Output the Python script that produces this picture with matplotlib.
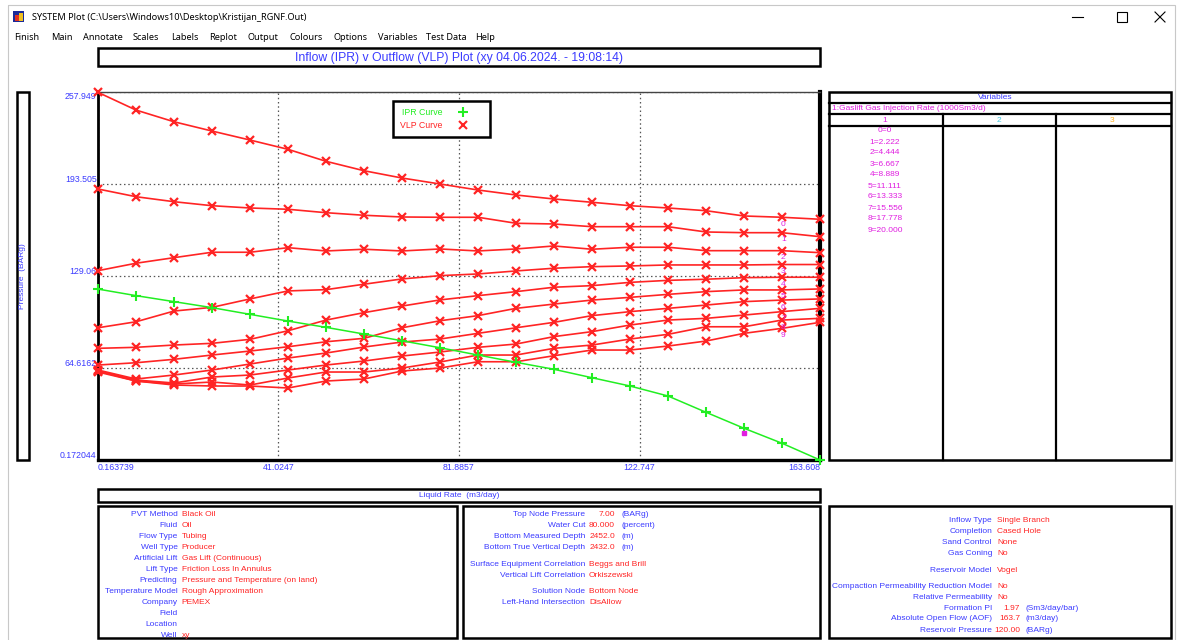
import numpy as np
import matplotlib
matplotlib.use("Agg")
import matplotlib.pyplot as plt
from matplotlib.lines import Line2D
from matplotlib.patches import Rectangle

plt.rcParams["font.family"] = ["Liberation Sans", "DejaVu Sans"]

W, H = 1179, 640

BLUE = "#3b3bff"
RED = "#ff2424"
MAG = "#e01ee0"
GREEN = "#22ee22"

# data
liquid_rate = [0.1637, 8.7661, 17.3684, 25.9707, 34.5730, 43.1754, 51.7777,
               60.3800, 68.9823, 77.5847, 86.1870, 94.7893, 103.3917, 111.9940,
               120.5963, 129.1986, 137.8010, 146.4033, 155.0056, 163.6080]

ipr_pressure = [119.9, 115.3, 111.1, 106.9, 102.2, 97.5, 93.1, 88.4, 83.7, 78.8,
                73.7, 68.6, 63.7, 57.8, 52.0, 45.0, 33.6, 22.4, 11.9, 0.17]

vlp_0 = [257.7, 245.3, 237.1, 230.6, 224.3, 217.8, 209.4, 202.8, 197.7, 193.5,
         189.3, 185.8, 183.0, 180.7, 178.3, 176.7, 174.8, 171.1, 170.2, 168.8]
vlp_1 = [190.0, 184.6, 181.1, 178.3, 176.7, 175.8, 173.4, 171.6, 170.4, 170.2,
         170.2, 166.0, 165.5, 163.6, 163.6, 163.6, 159.9, 159.4, 159.4, 156.6]
vlp_2 = [132.8, 138.0, 141.9, 145.7, 145.7, 148.9, 146.6, 147.8, 146.6, 148.0,
         146.6, 148.0, 150.1, 147.8, 149.2, 149.2, 146.8, 146.8, 146.8, 145.4]
vlp_3 = [92.8, 97.0, 104.5, 107.1, 113.0, 118.6, 119.5, 123.3, 127.0, 129.3,
         130.5, 132.6, 134.5, 135.6, 136.1, 136.8, 136.8, 136.8, 137.1, 137.1]
vlp_4 = [78.4, 79.1, 80.7, 81.9, 84.7, 90.7, 98.2, 103.4, 108.0, 112.3,
         115.3, 118.1, 121.2, 122.3, 124.6, 126.0, 126.8, 127.9, 128.2, 128.2]
vlp_5 = [66.7, 68.3, 70.7, 73.7, 76.5, 79.5, 83.0, 85.4, 92.8, 97.7,
         101.3, 106.4, 109.4, 112.2, 114.1, 116.2, 118.1, 119.3, 119.3, 120.0]
vlp_6 = [63.2, 56.9, 59.7, 63.2, 67.4, 71.6, 75.1, 79.3, 82.8, 84.9,
         88.9, 92.8, 96.6, 101.3, 104.1, 106.4, 108.7, 111.1, 112.2, 113.0]
vlp_7 = [62.5, 56.2, 54.1, 58.3, 59.7, 63.2, 66.7, 69.5, 73.0, 75.8,
         79.1, 81.4, 86.6, 90.1, 94.7, 98.2, 99.4, 101.7, 104.1, 106.4]
vlp_8 = [62.5, 55.5, 53.4, 54.8, 52.7, 57.6, 61.8, 61.8, 64.6, 68.8,
         73.7, 73.7, 78.4, 80.7, 84.9, 88.2, 93.5, 93.5, 98.2, 99.4]
vlp_9 = [61.8, 55.5, 52.7, 52.0, 52.0, 50.6, 55.5, 56.9, 62.5, 64.6,
         69.0, 69.0, 73.2, 77.2, 77.2, 80.0, 83.5, 88.9, 92.4, 96.6]
vlp_curves = [vlp_0, vlp_1, vlp_2, vlp_3, vlp_4, vlp_5, vlp_6, vlp_7, vlp_8, vlp_9]

op_rate = [146.4]
op_pressure = [19.1]

x_ticks = [0.163739, 41.0247, 81.8857, 122.747, 163.608]
x_tick_labels = ["0.163739", "41.0247", "81.8857", "122.747", "163.608"]
y_ticks = [0.172044, 64.6162, 129.06, 193.505, 257.949]
y_tick_labels = ["0.172044", "64.6162", "129.06", "193.505", "257.949"]

gas_inj_values = ["0=0", "1=2.222", "2=4.444", "3=6.667", "4=8.889", "5=11.111",
                  "6=13.333", "7=15.556", "8=17.778", "9=20.000"]

menu_items = ["Finish", "Main", "Annotate", "Scales", "Labels", "Replot", "Output",
              "Colours", "Options", "Variables", "Test Data", "Help"]
menu_x = [14, 51, 83, 133, 171, 209, 248, 289, 333, 378, 426, 475]

box1_labels = ["PVT Method", "Fluid", "Flow Type", "Well Type", "Artificial Lift",
               "Lift Type", "Predicting", "Temperature Model", "Company", "Field",
               "Location", "Well"]
box1_values = ["Black Oil", "Oil", "Tubing", "Producer", "Gas Lift (Continuous)",
               "Friction Loss In Annulus", "Pressure and Temperature (on land)",
               "Rough Approximation", "PEMEX", "", "", "xy"]

box2_labels = ["Top Node Pressure", "Water Cut", "Bottom Measured Depth",
               "Bottom True Vertical Depth", "Surface Equipment Correlation",
               "Vertical Lift Correlation", "Solution Node", "Left-Hand Intersection"]
box2_numbers = ["7.00", "80.000", "2452.0", "2432.0", "", "", "", ""]
box2_units = ["(BARg)", "(percent)", "(m)", "(m)", "", "", "", ""]
box2_values = ["", "", "", "", "Beggs and Brill", "Orkiszewski", "Bottom Node", "DisAllow"]
box2_y = [514.3, 525.7, 536.7, 547.7, 564, 575.7, 591.7, 602.7]

box3_labels = ["Inflow Type", "Completion", "Sand Control", "Gas Coning",
               "Reservoir Model", "Compaction Permeability Reduction Model",
               "Relative Permeability", "Formation PI", "Absolute Open Flow (AOF)",
               "Reservoir Pressure"]
box3_values = ["Single Branch", "Cased Hole", "None", "No", "Vogel", "No", "No", "", "", ""]
box3_numbers = ["", "", "", "", "", "", "", "1.97", "163.7", "120.00"]
box3_units = ["", "", "", "", "", "", "", "(Sm3/day/bar)", "(m3/day)", "(BARg)"]
box3_y = [520, 531.7, 542.3, 553.3, 570, 586, 597.3, 608.3, 619, 630]

FS = 6.0
UI_FONT = ["Noto Sans", "DejaVu Sans"]

fig = plt.figure(figsize=(W / 100, H / 100), dpi=100)
fig.patch.set_facecolor("white")

# window chrome, boxes and texts in pixel coordinates
bg = fig.add_axes([0, 0, 1, 1], zorder=0)
bg.set_xlim(0, W)
bg.set_ylim(H, 0)
bg.axis("off")


def box(x0, y0, x1, y1, lw=1.8):
    bg.add_patch(Rectangle((x0, y0), x1 - x0, y1 - y0, fill=False, ec="black", lw=lw))


def txt(x, y, s, color=BLUE, ha="left", size=FS, **kw):
    bg.text(x, y, s, color=color, ha=ha, va="center", fontsize=size, **kw)


bg.add_patch(Rectangle((7.5, 4.5), 1167, 640, fill=False, ec="#c8c8c8", lw=0.8))
# icon
bg.add_patch(Rectangle((13, 11), 11, 11, fc="#1a2a9a", ec="none"))
bg.add_patch(Rectangle((15, 15), 4, 6, fc="#e03020", ec="none"))
bg.add_patch(Rectangle((19, 13), 4, 8, fc="#f0c020", ec="none"))
txt(32, 17, "SYSTEM Plot (C:\\Users\\Windows10\\Desktop\\Kristijan_RGNF.Out)",
    color="black", size=6.6, family=UI_FONT)
bg.plot([1072, 1083], [17, 17], color="black", lw=0.8)
bg.add_patch(Rectangle((1117, 12), 10, 10, fill=False, ec="black", lw=0.8))
bg.plot([1155, 1165], [12, 22], color="black", lw=0.8)
bg.plot([1155, 1165], [22, 12], color="black", lw=0.8)

for name, mx in zip(menu_items, menu_x):
    txt(mx, 38, name, color="black", size=6.6, family=UI_FONT)

# title box
box(98, 48, 820, 66)
txt(459, 57.5, "Inflow (IPR) v Outflow (VLP) Plot (xy 04.06.2024. - 19:08:14)",
    ha="center", size=8.8)

# y label box
box(17, 91.5, 29, 460)
bg.text(23, 276, "Pressure  (BARg)", color=BLUE, fontsize=FS, rotation=90,
        ha="center", va="center")

# x label box
box(98, 489, 820, 502)
txt(459, 495.5, "Liquid Rate  (m3/day)", ha="center")

# variables panel
box(829, 91.5, 1171, 460)
for yy in [103.3, 114.3, 125.7]:
    bg.plot([829, 1171], [yy, yy], color="black", lw=1.6)
for xx in [943, 1056]:
    bg.plot([xx, xx], [114.3, 460], color="black", lw=1.6)
txt(995, 97.7, "Variables", ha="center")
txt(831.5, 109, "1:Gaslift Gas Injection Rate (1000Sm3/d)", color=MAG)
txt(885, 120, "1", color=MAG, ha="center")
txt(999, 120, "2", color="#40c8e0", ha="center")
txt(1112, 120, "3", color="#ffb020", ha="center")
for i, s in enumerate(gas_inj_values):
    txt(885, 131 + 11 * i, s, color=MAG, ha="center")

# bottom info boxes
box(98, 506, 457, 638)
for i, (lab, val) in enumerate(zip(box1_labels, box1_values)):
    yy = 514.3 + 11.05 * i
    txt(177.5, yy, lab, ha="right")
    txt(181.5, yy, val, color=RED)

box(463, 506, 820, 638)
for lab, num, unit, val, yy in zip(box2_labels, box2_numbers, box2_units, box2_values, box2_y):
    txt(585, yy, lab, ha="right")
    if num:
        txt(615, yy, num, color=RED, ha="right")
        txt(621, yy, unit)
    else:
        txt(589, yy, val, color=RED)

box(829, 506, 1171, 638)
for lab, num, unit, val, yy in zip(box3_labels, box3_numbers, box3_units, box3_values, box3_y):
    txt(992, yy, lab, ha="right")
    if num:
        txt(1020, yy, num, color=RED, ha="right")
        txt(1026, yy, unit)
    else:
        txt(997, yy, val, color=RED)

# the IPR / VLP plot
ax = fig.add_axes([98 / W, 1 - 460 / H, 722 / W, 368 / H], zorder=1)
ax.set_xlim(x_ticks[0], x_ticks[-1])
ax.set_ylim(y_ticks[0], y_ticks[-1])

for i, p in enumerate(vlp_curves):
    ax.plot(liquid_rate, p, color=RED, lw=1.2, marker="x", ms=6, mew=1.6,
            clip_on=False, zorder=3)
    ax.annotate(str(i), (liquid_rate[-2], p[-2]), xytext=(1, -5),
                textcoords="offset points", color=MAG, fontsize=FS,
                ha="center", va="center", zorder=4)

ax.plot(liquid_rate, ipr_pressure, color=GREEN, lw=1.1, marker="+", ms=7, mew=1.5,
        clip_on=False, zorder=4)
ax.plot(op_rate, op_pressure, ls="none", marker="s", ms=3.5, color=MAG, zorder=5)

ax.set_xticks(x_ticks, x_tick_labels)
ax.set_yticks(y_ticks, y_tick_labels)
ax.tick_params(length=0, labelsize=6.3, labelcolor=BLUE)
ax.tick_params(axis="x", pad=2)
ax.tick_params(axis="y", pad=1)
xl = ax.get_xticklabels()
xl[0].set_ha("left")
xl[-1].set_ha("right")
yl = ax.get_yticklabels()
for lbl in yl:
    lbl.set_va("bottom")
yl[-1].set_va("top")

ax.grid(True, color="#555555", ls=(0, (1.2, 2.2)), lw=0.9)
ax.spines["left"].set_linewidth(2.0)
ax.spines["bottom"].set_linewidth(2.4)
ax.spines["right"].set_linewidth(3.0)
ax.spines["top"].set_linewidth(1.0)
ax.spines["top"].set_color("#444444")

handles = [Line2D([], [], color=GREEN, marker="+", ls="none", ms=7, mew=1.5),
           Line2D([], [], color=RED, marker="x", ls="none", ms=6, mew=1.5)]
leg = ax.legend(handles, ["IPR Curve", "VLP Curve"], markerfirst=False,
                loc="upper left", bbox_to_anchor=((393 - 98) / 722, 1 - (101 - 92) / 368),
                fancybox=False, edgecolor="black", framealpha=1, fontsize=6.3,
                labelcolor=[GREEN, RED], borderpad=0.8, handletextpad=0.2,
                labelspacing=0.45, handlelength=4.4, borderaxespad=0)
leg.get_frame().set_linewidth(1.8)

fig.savefig("out.png", dpi=100)
